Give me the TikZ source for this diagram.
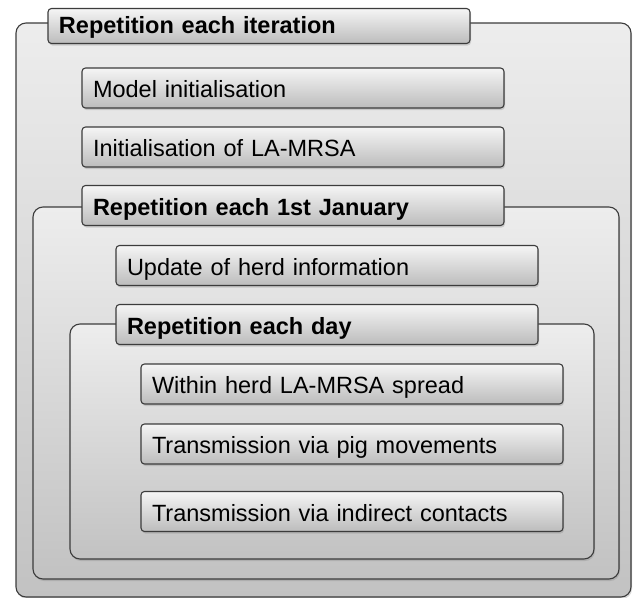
\documentclass[tikz,border=0pt]{standalone}
\usepackage{fontspec}
\setmainfont{Liberation Sans}
\usetikzlibrary{shadows}
\definecolor{edgegray}{HTML}{3C3C3C}
\definecolor{framelight}{HTML}{EDEDED}
\definecolor{framedark}{HTML}{C2C2C2}
\definecolor{boxlight}{HTML}{F5F5F5}
\definecolor{boxdark}{HTML}{BCBCBC}
\begin{document}
\begin{tikzpicture}[
        x=1pt, y=-1pt,
        frame/.style={rectangle, draw=edgegray, line width=1.1pt, rounded corners=10pt, top color=framelight, bottom color=framedark, drop shadow={shadow xshift=1pt, shadow yshift=-2pt, opacity=0.3}},
        stepbox/.style={rectangle, draw=edgegray, line width=1.1pt, rounded corners=3.5pt, top color=boxlight, bottom color=boxdark, text width=400pt, inner xsep=11pt, minimum height=40pt, text height=20pt, text depth=1pt, align=left, font=\fontsize{23.5}{27}\selectfont, drop shadow={shadow xshift=1pt, shadow yshift=-2pt, opacity=0.3}},
        looptitle/.style={stepbox, font=\fontsize{23.5}{27}\selectfont\bfseries}
    ]
    \useasboundingbox (0,0) rectangle (633,598);

    % Iteration loop
    \node[frame, minimum width=615pt, minimum height=574pt] (iterframe) at (323.5,310) {};
    \node[looptitle, minimum height=35pt, text height=18pt, text depth=3pt] (itertitle) at (259,26) {Repetition each iteration};
    \node[stepbox] (modelinit) at (293,88) {Model initialisation};
    \node[stepbox] (mrsainit) at (293,147) {Initialisation of LA-MRSA};

    % Yearly loop
    \node[frame, minimum width=586pt, minimum height=372pt] (yearframe) at (326,393) {};
    \node[looptitle] (yeartitle) at (293,205.5) {Repetition each 1st January};
    \node[stepbox] (herdupdate) at (327,265.5) {Update of herd information};

    % Daily loop
    \node[frame, minimum width=524pt, minimum height=235pt] (dayframe) at (332,441.5) {};
    \node[looptitle] (daytitle) at (327,324.5) {Repetition each day};
    \node[stepbox] (withinherd) at (352,384) {Within herd LA-MRSA spread};
    \node[stepbox] (pigmoves) at (352,444) {Transmission via pig movements};
    \node[stepbox] (indirect) at (352,511.5) {Transmission via indirect contacts};

\end{tikzpicture}
\end{document}
